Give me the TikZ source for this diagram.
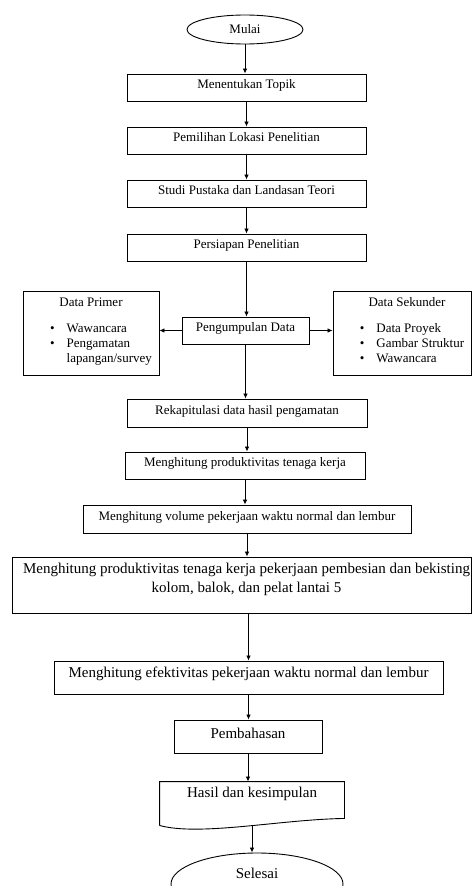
\documentclass[tikz,border=0pt]{standalone}
\usepackage{fontspec}
\setmainfont{Liberation Serif}
\usetikzlibrary{arrows.meta,positioning,calc,shapes.geometric}

\newcommand{\flowfont}{\fontsize{13}{15}\selectfont}
\newcommand{\flowfontL}{\fontsize{15}{19}\selectfont}

\begin{document}
\begin{tikzpicture}[
  x=1pt, y=-1pt,
  >={Latex[length=5pt,width=4.5pt]},
  terminal/.style={draw, ellipse, line width=0.9pt, inner sep=0pt,
              font=\flowfont},
  stepbox/.style={draw, line width=0.9pt, minimum height=27pt,
              minimum width=239pt, inner sep=0pt, align=center,
              font=\flowfont, text height=9pt, text depth=7pt},
  widebox/.style={stepbox, font=\flowfontL, text height=11pt},
  databox/.style={draw, line width=0.9pt, minimum width=136pt,
              minimum height=84pt, inner sep=0pt,
              font=\flowfont, text height=10pt, text depth=64pt},
  arr/.style={->, line width=0.8pt},
]
\useasboundingbox (0,0) rectangle (472,886);

% === Main column ===
\node[terminal, minimum width=116pt, minimum height=29pt] (mulai) at (245,29.5) {Mulai};

\node[stepbox] (topik) at (246.5,87.5) {Menentukan Topik};
\node[stepbox] (lokasi) at (246.5,140.5) {Pemilihan Lokasi Penelitian};
\node[stepbox] (pustaka) at (246.5,193.5) {Studi Pustaka dan Landasan Teori};
\node[stepbox] (persiapan) at (246.5,247.5) {Persiapan Penelitian};

\node[stepbox, minimum width=127pt, text depth=8pt] (kumpul) at (245.5,330.5) {Pengumpulan Data};

% === Data sources ===
\node[databox] (primer) at (91,333) {%
  \begin{tabular}[t]{@{}c@{}}
    Data Primer\\[11pt]
    \begin{tabular}[t]{@{\hspace{20pt}}c@{\hspace{12pt}}l@{}}
      \textbullet & Wawancara\\
      \textbullet & Pengamatan\\
                  & lapangan/survey
    \end{tabular}
  \end{tabular}};
\node[databox, minimum width=138pt] (sekunder) at (402,333) {%
  \begin{tabular}[t]{@{}c@{}}
    \hspace*{10pt}Data Sekunder\\[11pt]
    \begin{tabular}[t]{@{\hspace{20pt}}c@{\hspace{12pt}}l@{}}
      \textbullet & Data Proyek\\
      \textbullet & Gambar Struktur\\
      \textbullet & Wawancara
    \end{tabular}
  \end{tabular}};

% === Processing ===
\node[stepbox, minimum width=240pt, minimum height=28pt] (rekap) at (247,413) {Rekapitulasi data hasil pengamatan};
\node[stepbox, minimum width=240pt] (prodtk) at (245,465.5) {Menghitung produktivitas tenaga kerja};
\node[stepbox, minimum width=328pt, minimum height=28pt] (volume) at (247,519) {Menghitung volume pekerjaan waktu normal dan lembur};

\node[widebox, align=none, minimum width=459pt, minimum height=56pt, text depth=35pt] (besi) at (241.5,585) {%
  \begin{tabular}[t]{@{}c@{}}
    \hspace*{10pt}Menghitung produktivitas tenaga kerja pekerjaan pembesian dan bekisting\\
    \hspace*{10pt}kolom, balok, dan pelat lantai 5
  \end{tabular}};

\node[widebox, minimum width=389pt, minimum height=33pt, text depth=12pt] (efektif) at (248.5,677.5)
  {Menghitung efektivitas pekerjaan waktu normal dan lembur};
\node[widebox, minimum width=148pt, minimum height=33pt, text depth=8pt] (bahas) at (248,736.5) {Pembahasan};

% document shape
\node[widebox, draw=none, minimum width=184pt, minimum height=43pt, text depth=24pt] (hasil) at (252,803.5) {Hasil dan kesimpulan};
\draw[line width=0.9pt] (hasil.south west) -- (hasil.north west) -- (hasil.north east)
  -- ([yshift=7pt]hasil.south east)
  .. controls ([xshift=-64pt,yshift=6pt]hasil.south east) and ([xshift=40pt,yshift=-11pt]hasil.south west) .. (hasil.south west);

\node[terminal, font=\flowfontL, minimum width=172pt, minimum height=62pt,
      text height=11pt, text depth=23pt] (selesai) at (257,884) {Selesai};

% Arrows
\draw[arr] (mulai.south) -- (mulai.south |- topik.north);
\draw[arr] (topik) -- (lokasi);
\draw[arr] (lokasi) -- (pustaka);
\draw[arr] (pustaka) -- (persiapan);
\draw[arr] (persiapan.south) -- (persiapan.south |- kumpul.north);
\draw[arr] (kumpul.west) -- (kumpul.west -| primer.east);
\draw[arr] (kumpul.east) -- (kumpul.east -| sekunder.west);
\draw[arr] (kumpul.south) -- (kumpul.south |- rekap.north);
\draw[arr] (rekap.south) -- (rekap.south |- prodtk.north);
\draw[arr] (prodtk.south) -- (prodtk.south |- volume.north);
\draw[arr] (volume.south) -- (volume.south |- besi.north);
\draw[arr] (besi.south -| efektif.north) -- (efektif.north);
\draw[arr] (efektif.south) -- (efektif.south |- bahas.north);
\draw[arr] (bahas.south) -- (bahas.south |- hasil.north);
\draw[arr] (hasil.south) -- (hasil.south |- selesai.north);

\end{tikzpicture}
\end{document}
